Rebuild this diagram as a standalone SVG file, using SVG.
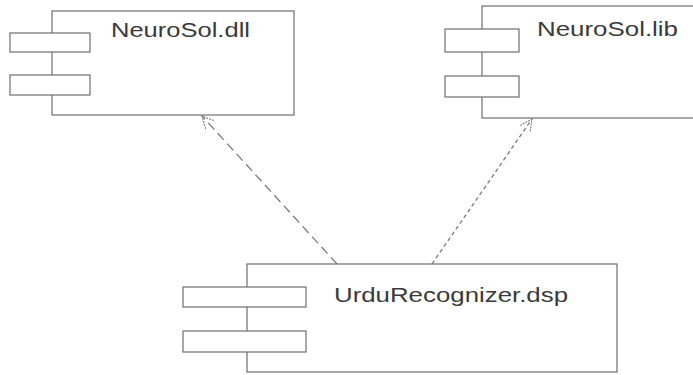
<svg xmlns="http://www.w3.org/2000/svg" width="693" height="375" viewBox="0 0 693 375">
<style>
.box{fill:#fff;stroke:#6e6e6e;stroke-width:1.2}
.tab{fill:#fff;stroke:#6e6e6e;stroke-width:1.2}
.lbl{font-family:"Liberation Sans",Arial,sans-serif;font-size:21px;fill:#3a3a3a}
.dep{fill:none;stroke:#7a7a7a;stroke-width:1.3}
</style>
<defs>
<marker id="open" markerWidth="14" markerHeight="14" refX="12" refY="6" orient="auto" markerUnits="userSpaceOnUse">
<path d="M0,0 L12,6 L0,12" fill="none" stroke="#7a7a7a" stroke-width="1.1" stroke-dasharray="2,1"/>
</marker>
</defs>
<rect width="693" height="375" fill="#fff"/>
<g id="connectors">
<line class="dep" x1="337" y1="264" x2="202" y2="116" stroke-dasharray="9,5" marker-end="url(#open)"/>
<line class="dep" x1="432" y1="264" x2="532" y2="119" stroke-dasharray="4,3" marker-end="url(#open)"/>
</g>
<g id="node-dll">
<rect class="box" x="52" y="11" width="242" height="104"/>
<rect class="tab" x="10" y="33" width="80" height="19"/>
<rect class="tab" x="10" y="75" width="80" height="20"/>
<text class="lbl" x="111" y="37" textLength="139" lengthAdjust="spacingAndGlyphs">NeuroSol.dll</text>
</g>
<g id="node-lib">
<rect class="box" x="482" y="6" width="220" height="112"/>
<rect class="tab" x="445" y="29" width="74" height="23"/>
<rect class="tab" x="445" y="76" width="74" height="21"/>
<text class="lbl" x="537" y="36" textLength="141" lengthAdjust="spacingAndGlyphs">NeuroSol.lib</text>
</g>
<g id="node-dsp">
<rect class="box" x="247" y="264" width="370" height="108"/>
<rect class="tab" x="183" y="287" width="123" height="20"/>
<rect class="tab" x="183" y="331" width="123" height="21"/>
<text class="lbl" x="334" y="302" font-size="22" textLength="234" lengthAdjust="spacingAndGlyphs">UrduRecognizer.dsp</text>
</g>
</svg>
